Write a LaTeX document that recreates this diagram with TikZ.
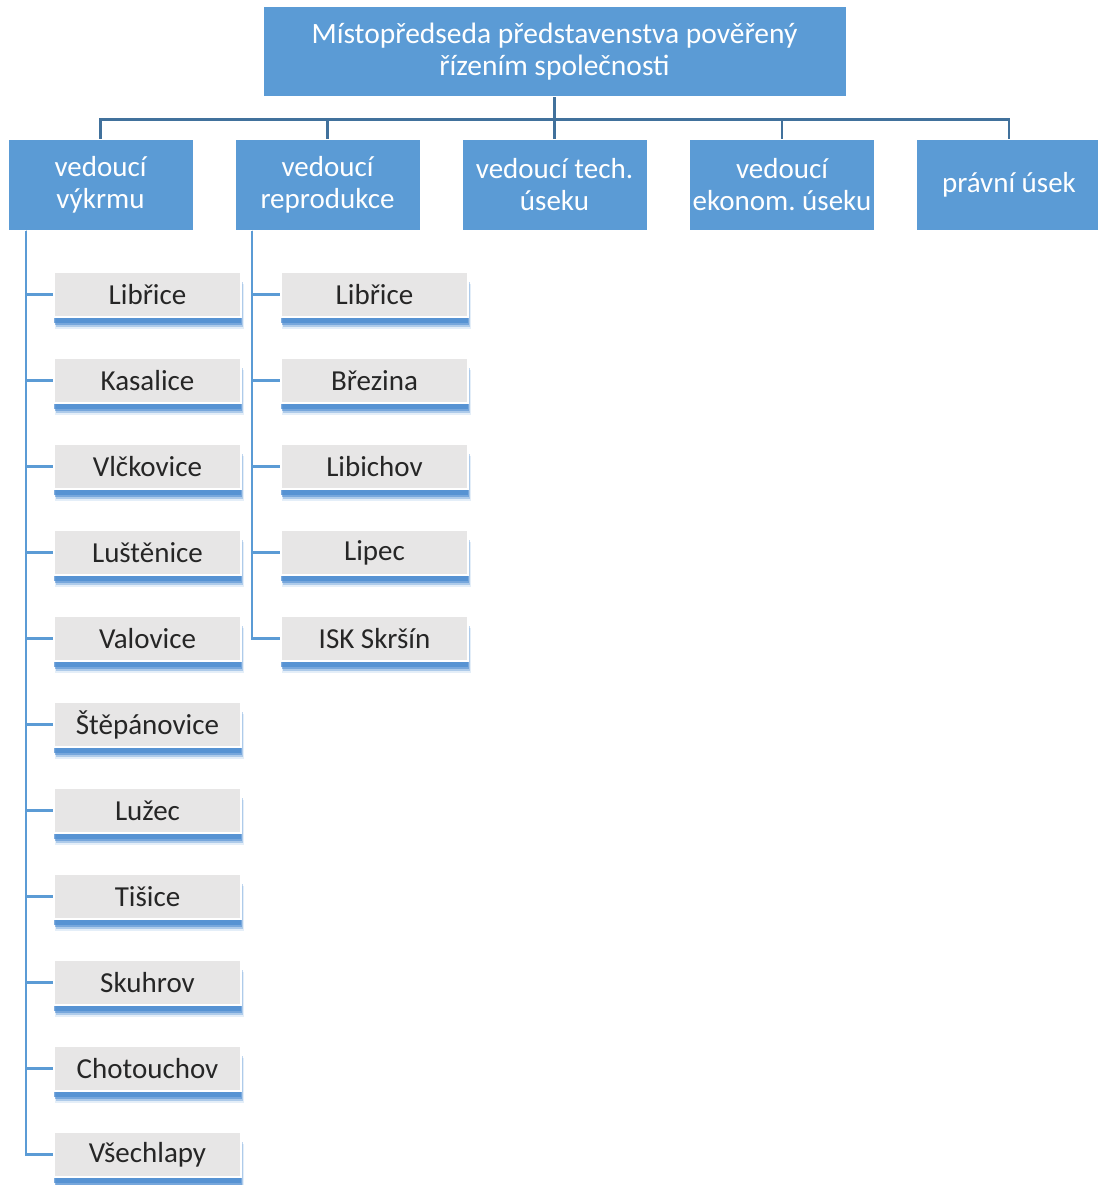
\documentclass[tikz,border=0pt]{standalone}
\usepackage{fontspec}
\setmainfont{Carlito}
\usetikzlibrary{shadows}
\frenchspacing
\definecolor{boxblue}{HTML}{5B9BD5}
\definecolor{busblue}{HTML}{41719C}
\definecolor{lineblue}{HTML}{5B9BD5}
\definecolor{subgray}{HTML}{E7E6E6}
\definecolor{shblue}{HTML}{4A8AD0}
\tikzset{
  headbox/.style={fill=boxblue, draw=white, line width=1pt, text=white, align=center,
    minimum width=185pt, minimum height=90pt, inner sep=0pt, font=\fontsize{29}{32}\selectfont},
  topbox/.style={headbox, minimum width=583pt, font=\fontsize{29.5}{32}\selectfont},
  subbox/.style={fill=subgray, draw=white, line width=1.5pt, text=black!85, align=center,
    minimum width=187pt, minimum height=45pt, inner sep=0pt, font=\fontsize{29}{31}\selectfont,
    general shadow={shadow xshift=2pt, shadow yshift=-12pt, shadow scale=1.01, fill=shblue, opacity=.15},
    general shadow={shadow xshift=1.5pt, shadow yshift=-10pt, fill=shblue, opacity=.35},
    general shadow={shadow xshift=1pt, shadow yshift=-8pt, fill=shblue, opacity=.55},
    general shadow={shadow yshift=-6pt, fill=shblue, opacity=.7}},
  bus/.style={draw=busblue, line width=2.5pt},
  branch/.style={draw=lineblue, line width=2.5pt},
}
\begin{document}
\begin{tikzpicture}[x=1pt,y=-1pt]
\useasboundingbox (0,0) rectangle (1097,1185);
% top
\node[topbox] (top) at (554.5,52) {Místopředseda představenstva pověřený\\řízením společnosti};
% heads
\node[headbox] (h1) at (100.5,185) {vedoucí\\výkrmu};
\node[headbox] (h2) at (327.5,185) {vedoucí\\reprodukce};
\node[headbox] (h3) at (554.5,185) {vedoucí tech.\\úseku};
\node[headbox] (h4) at (782,185) {vedoucí\\ekonom. úseku};
\node[headbox] (h5) at (1009,185) {právní úsek};
\foreach \h in {h1,h2,h3,h4,h5}{
  \draw[bus] (top.south) -- ++(0,22) -| (\h.north);
}
% left column
\foreach \t [count=\i from 0] in {Libřice,Kasalice,Vlčkovice,Luštěnice,Valovice,Štěpánovice,Lužec,Tišice,Skuhrov,Chotouchov,Všechlapy}{
  \node[subbox] (a\i) at (147.5,{294.5+86*\i}) {\t};
  \draw[branch] ([xshift=-74.5pt]h1.south) |- (a\i.west);
}
% right column
\foreach \t [count=\i from 0] in {Libřice,Březina,Libichov,Lipec,ISK Skršín}{
  \node[subbox] (b\i) at (374.5,{294.5+86*\i}) {\t};
  \draw[branch] ([xshift=-75.5pt]h2.south) |- (b\i.west);
}
\end{tikzpicture}
\end{document}
